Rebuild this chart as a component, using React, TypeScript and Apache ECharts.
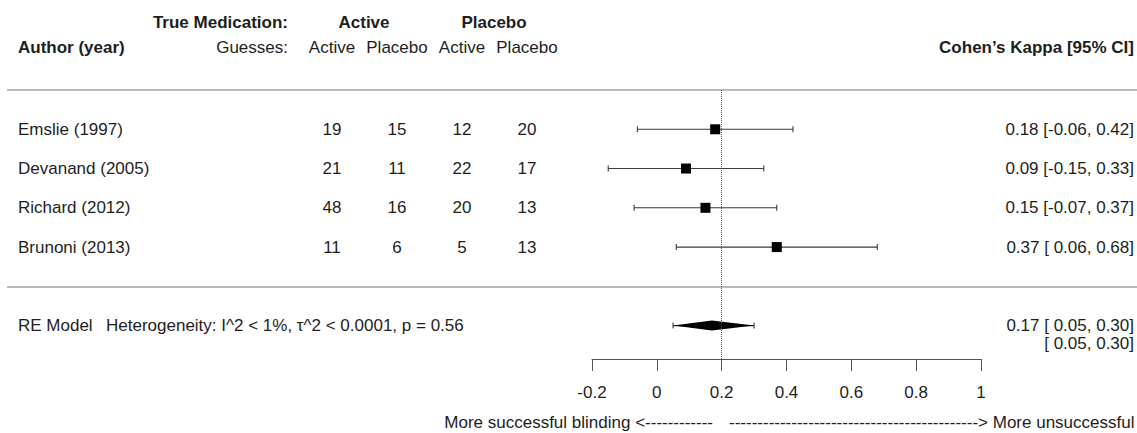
import React, { useEffect, useRef } from "react";
import * as echarts from "echarts";

const authors = ["Emslie (1997)", "Devanand (2005)", "Richard (2012)", "Brunoni (2013)"];
const activeGuessActive = [19, 21, 48, 11];
const activeGuessPlacebo = [15, 11, 16, 6];
const placeboGuessActive = [12, 22, 20, 5];
const placeboGuessPlacebo = [20, 17, 13, 13];
const kappa = [0.18, 0.09, 0.15, 0.37];
const lower = [-0.06, -0.15, -0.07, 0.06];
const upper = [0.42, 0.33, 0.37, 0.68];

const pooled = { est: 0.17, lo: 0.05, hi: 0.3, piLo: 0.05, piHi: 0.3 };
const heterogeneity = "Heterogeneity: I^2 < 1%, \u03c4^2 < 0.0001, p = 0.56";

const xTicks = [-0.2, 0, 0.2, 0.4, 0.6, 0.8, 1];
const refLine = 0.2;

const FONT = "'Liberation Sans', Arial, Helvetica, sans-serif";
const FS = 17;
const TXT = "#1e1e1e";
const colX = [332, 397, 462, 527];
const leftX = 18;
const rightX = 1134;

const fmt = (v: number) => (v < 0 ? v.toFixed(2) : " " + v.toFixed(2));
const ciText = (e: number, l: number, h: number) => `${e.toFixed(2)} [${fmt(l)}, ${h.toFixed(2)}]`;

function txt(text: string, x: number, y: number, align: string, bold = false) {
  return {
    type: "text",
    x,
    y,
    style: {
      text,
      fill: TXT,
      font: `${bold ? "bold " : ""}${FS}px ${FONT}`,
      textAlign: align,
      textVerticalAlign: "middle",
    },
  } as any;
}

export default function App() {
  const ref = useRef<HTMLDivElement>(null);
  useEffect(() => {
    document.body.style.margin = "0";
    const chart = echarts.init(ref.current!, undefined, { renderer: "svg" });
    const rows = authors.map((_, i) => [kappa[i], i + 1]);
    const option: any = {
      animation: false,
      backgroundColor: "#fff",
      grid: { left: 592, right: 156, top: 90, bottom: 74 },
      xAxis: {
        type: "value",
        position: "bottom",
        min: xTicks[0],
        max: xTicks[xTicks.length - 1],
        interval: 0.2,
        axisLine: { show: true, onZero: false, lineStyle: { color: "#555", width: 1 } },
        axisTick: { show: true, length: 12, lineStyle: { color: "#555" } },
        splitLine: { show: false },
        axisLabel: {
          margin: 25,
          fontSize: FS,
          fontFamily: FONT,
          color: TXT,
          formatter: (v: number) => String(Math.round(v * 10) / 10),
        },
      },
      yAxis: { type: "value", inverse: true, min: 0, max: 6.85, show: false },
      graphic: [
        txt("True Medication:", 288, 22, "right", true),
        txt("Active", 364, 22, "center", true),
        txt("Placebo", 494, 22, "center", true),
        txt("Author (year)", leftX, 47, "left", true),
        txt("Guesses:", 288, 47, "right"),
        txt("Active", colX[0], 47, "center"),
        txt("Placebo", colX[1], 47, "center"),
        txt("Active", colX[2], 47, "center"),
        txt("Placebo", colX[3], 47, "center"),
        txt("Cohen\u2019s Kappa [95% CI]", rightX, 47, "right", true),
        { type: "line", shape: { x1: 7, y1: 90, x2: 1137, y2: 90 }, style: { stroke: "#777", lineWidth: 1.2 } },
        { type: "line", shape: { x1: 7, y1: 287, x2: 1137, y2: 287 }, style: { stroke: "#777", lineWidth: 1.2 } },
        txt("More successful blinding <" + "-".repeat(12), 713, 422, "right"),
        txt("-".repeat(44) + "> More unsuccessful", 729, 422, "left"),
      ],
      series: [
        {
          type: "custom",
          data: rows,
          clip: false,
          renderItem: (params: any, api: any) => {
            const i = params.dataIndex;
            const y = api.coord([0, i + 1])[1];
            const xe = api.coord([kappa[i], i + 1])[0];
            const xl = api.coord([lower[i], i + 1])[0];
            const xh = api.coord([upper[i], i + 1])[0];
            const counts = [activeGuessActive[i], activeGuessPlacebo[i], placeboGuessActive[i], placeboGuessPlacebo[i]];
            const lineStyle = { stroke: "#3a3a3a", lineWidth: 1.1 };
            return {
              type: "group",
              children: [
                { type: "line", shape: { x1: xl, y1: y, x2: xh, y2: y }, style: lineStyle },
                { type: "line", shape: { x1: xl, y1: y - 3, x2: xl, y2: y + 3 }, style: lineStyle },
                { type: "line", shape: { x1: xh, y1: y - 3, x2: xh, y2: y + 3 }, style: lineStyle },
                { type: "rect", shape: { x: xe - 5, y: y - 5, width: 10, height: 10 }, style: { fill: "#000" } },
                txt(authors[i], leftX, y, "left"),
                ...counts.map((c, k) => txt(String(c), colX[k], y, "center")),
                txt(ciText(kappa[i], lower[i], upper[i]), rightX, y, "right"),
              ],
            };
          },
          markLine: {
            silent: true,
            symbol: "none",
            label: { show: false },
            lineStyle: { color: "#555", type: "dotted", width: 1 },
            data: [{ xAxis: refLine }],
          },
        },
        {
          type: "custom",
          data: [[pooled.est, 6]],
          clip: false,
          renderItem: (params: any, api: any) => {
            const y = api.coord([0, 6])[1];
            const xe = api.coord([pooled.est, 6])[0];
            const xl = api.coord([pooled.lo, 6])[0];
            const xh = api.coord([pooled.hi, 6])[0];
            const pl = api.coord([pooled.piLo, 6])[0];
            const ph = api.coord([pooled.piHi, 6])[0];
            const ls = { stroke: "#3a3a3a", lineWidth: 1.1 };
            return {
              type: "group",
              children: [
                { type: "line", shape: { x1: pl, y1: y, x2: ph, y2: y }, style: ls },
                { type: "line", shape: { x1: pl, y1: y - 3, x2: pl, y2: y + 3 }, style: ls },
                { type: "line", shape: { x1: ph, y1: y - 3, x2: ph, y2: y + 3 }, style: ls },
                {
                  type: "polygon",
                  shape: { points: [[xl, y], [xe, y - 5], [xh, y], [xe, y + 5]] },
                  style: { fill: "#000" },
                },
                txt("RE Model", leftX, y, "left"),
                txt(heterogeneity, 106, y, "left"),
                txt(ciText(pooled.est, pooled.lo, pooled.hi), rightX, y, "right"),
                txt(`[${fmt(pooled.piLo)}, ${pooled.piHi.toFixed(2)}]`, rightX, y + 18, "right"),
              ],
            };
          },
        },
      ],
    };
    chart.setOption(option);
    return () => chart.dispose();
  }, []);
  return <div ref={ref} style={{ width: 1137, height: 433 }} />;
}
